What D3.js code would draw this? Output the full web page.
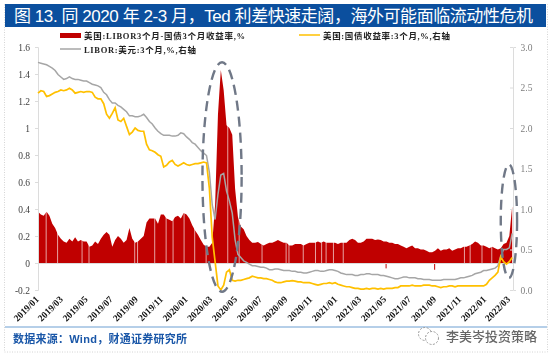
<!DOCTYPE html>
<html>
<head>
<meta charset="utf-8">
<script src="https://cdn.jsdelivr.net/npm/d3@7"></script>
<style>
html, body { margin: 0; padding: 0; background: #fff; }
svg { display: block; filter: blur(0.35px); }
</style>
</head>
<body>
<div id="chart"></div>
<script>
// one value per week from 2019/01/01
var spreadValues = [
  .38,.36,.35,.38,.35,.29,.26,.21,.18,.16,
  .15,.18,.16,.19,.16,.17,.16,.16,.12,.13,
  .16,.14,.18,.21,.23,.21,.12,.17,.2,.18,
  .15,.17,.26,.18,.15,.16,.18,.2,.3,.33,
  .33,.33,.29,.36,.36,.33,.32,.31,.34,.35,
  .33,.37,.36,.33,.28,.24,.21,.17,.135,.12,
  .12,.15,.43,1.1,1.43,1.28,1.02,1.0,.95,.55,
  .34,.27,.25,.2,.17,.15,.15,.155,.14,.13,
  .14,.15,.15,.16,.17,.16,.15,.15,.13,.13,
  .14,.14,.14,.13,.14,.15,.15,.15,.16,.15,
  .16,.15,.15,.15,.15,.14,.15,.15,.15,.17,
  .18,.17,.15,.15,.16,.18,.18,.18,.17,.175,
  .17,.16,.16,.15,.15,.14,.14,.13,.12,.11,
  .12,.13,.11,.11,.10,.10,.09,.08,.08,.09,
  .11,.09,.10,.10,.11,.09,.10,.11,.11,.12,
  .12,.13,.14,.16,.15,.13,.13,.12,.11,.12,
  .11,.10,.11,.14,.15,.2,.42
];
var yieldValues = [
  2.43,2.46,2.45,2.39,2.40,2.42,2.44,2.45,2.47,2.46,
  2.47,2.49,2.47,2.43,2.44,2.45,2.44,2.45,2.45,2.44,
  2.38,2.36,2.36,2.30,2.17,2.12,2.18,2.25,2.10,2.08,
  2.12,2.02,1.92,1.95,2.00,1.97,1.96,1.96,1.80,1.73,
  1.72,1.70,1.67,1.65,1.52,1.54,1.58,1.60,1.55,1.53,
  1.55,1.57,1.55,1.54,1.55,1.56,1.56,1.57,1.58,1.57,
  1.25,.65,.35,.05,.00,.06,.22,.25,.12,.11,
  .12,.12,.13,.14,.15,.17,.16,.15,.15,.14,
  .14,.13,.12,.10,.09,.09,.10,.11,.11,.115,
  .11,.10,.10,.09,.09,.09,.08,.07,.06,.07,
  .08,.08,.09,.08,.09,.07,.06,.05,.04,.04,
  .03,.02,.02,.01,.01,.02,.01,.02,.02,.01,
  .02,.01,.02,.02,.02,.03,.03,.05,.05,.05,
  .05,.06,.05,.05,.05,.06,.06,.06,.05,.05,
  .04,.03,.04,.04,.05,.05,.04,.05,.05,.05,
  .05,.05,.05,.05,.05,.05,.05,.07,.12,.15,
  .18,.22,.41,.35,.32,.35,.40
];
var liborValues = [
  2.81,2.80,2.79,2.78,2.76,2.74,2.71,2.66,2.63,2.60,
  2.61,2.63,2.61,2.60,2.60,2.59,2.58,2.58,2.56,2.54,
  2.53,2.52,2.50,2.44,2.41,2.35,2.31,2.31,2.28,2.26,
  2.23,2.20,2.15,2.15,2.14,2.14,2.15,2.17,2.13,2.08,
  2.05,2.00,1.96,1.93,1.91,1.91,1.91,1.90,1.90,1.91,
  1.94,1.93,1.89,1.86,1.82,1.80,1.76,1.72,1.69,1.66,
  1.45,1.05,.87,1.18,1.42,1.44,1.22,1.10,.95,.62,
  .44,.40,.36,.34,.32,.30,.30,.29,.28,.28,
  .27,.25,.25,.26,.26,.25,.24,.24,.24,.23,
  .23,.22,.22,.21,.21,.22,.23,.24,.24,.23,
  .23,.24,.25,.25,.24,.23,.21,.20,.19,.19,
  .19,.18,.18,.19,.19,.20,.20,.19,.19,.19,
  .18,.18,.17,.16,.15,.14,.14,.15,.16,.16,
  .15,.15,.15,.14,.14,.13,.13,.13,.12,.12,
  .12,.12,.13,.13,.13,.13,.13,.14,.15,.15,
  .16,.17,.18,.20,.21,.22,.24,.24,.25,.26,
  .27,.30,.42,.50,.50,.52,.70
];
// holidays with no spread value (white slits in the area)
var gapDates = [
  "2019-01-21","2019-02-18","2019-04-19","2019-05-06","2019-08-26","2019-09-02",
  "2019-10-14","2019-11-11","2019-11-28","2019-12-25","2020-01-20","2020-02-17",
  "2020-04-10","2020-05-08","2020-07-03","2020-08-31","2020-09-07","2020-10-12",
  "2020-11-11","2020-11-26","2020-12-07","2020-12-25","2021-01-18",
  "2021-11-11","2021-11-25","2021-12-24","2022-01-17"
];
var dipDates = ["2021-05-03", "2021-08-30"];
var dipValues = [-0.04, -0.05];

var monthTicks = [
  "2019/01","2019/03","2019/05","2019/07","2019/09","2019/11",
  "2020/01","2020/03","2020/05","2020/07","2020/09","2020/11",
  "2021/01","2021/03","2021/05","2021/07","2021/09","2021/11",
  "2022/01","2022/03"
];
var leftTicks = [-0.2, 0, 0.2, 0.4, 0.6, 0.8, 1, 1.2, 1.4, 1.6];
var rightTicks = [0, 0.5, 1, 1.5, 2, 2.5, 3];

var serif = '"Liberation Serif","Noto Sans CJK SC",serif';
var cjk = '"Liberation Sans","Noto Sans CJK SC",sans-serif';

var parseDay = d3.timeParse("%Y-%m-%d");
var parseMonth = d3.timeParse("%Y/%m");
var weeks = spreadValues.map((d, i) => d3.timeDay.offset(new Date(2019, 0, 1), i * 7));

var svg = d3.select("#chart").append("svg")
    .attr("width", 554)
    .attr("height", 361);

var x = d3.scaleTime()
    .domain([new Date(2019, 0, 1), new Date(2022, 2, 10)])
    .range([38, 513]);
var yLeft = d3.scaleLinear().domain([-0.2, 1.6]).range([290, 47]);
var yRight = d3.scaleLinear().domain([0, 3]).range([290, 47]);

// frame and title band
svg.append("rect")
    .attr("x", 4.5).attr("y", 4.5).attr("width", 543).attr("height", 347.5)
    .attr("fill", "none").attr("stroke", "#d4d4d4").attr("stroke-dasharray", "1,1.5");
svg.append("rect")
    .attr("x", 5).attr("y", 4).attr("width", 541).attr("height", 23)
    .attr("fill", "#0b4f9e");
svg.append("text")
    .attr("x", 14).attr("y", 21.5)
    .attr("fill", "#fff")
    .style("font-family", cjk)
    .style("font-size", "17px")
    .attr("textLength", 519)
    .text("图 13. 同 2020 年 2-3 月，Ted 利差快速走阔，海外可能面临流动性危机");

// 利差面积
var area = d3.area()
    .x((d, i) => x(weeks[i]))
    .y0(yLeft(0))
    .y1(d => yLeft(d));
svg.append("path")
    .attr("d", area(spreadValues))
    .attr("fill", "#c00000");
svg.selectAll(".gap")
    .data(gapDates)
    .enter().append("line")
    .attr("class", "gap")
    .attr("x1", d => x(parseDay(d)))
    .attr("x2", d => x(parseDay(d)))
    .attr("y1", yLeft(0))
    .attr("y2", yLeft(1.1))
    .attr("stroke", "#fff")
    .attr("stroke-opacity", 0.7)
    .attr("stroke-width", 0.9);
svg.selectAll(".dip")
    .data(dipDates)
    .enter().append("line")
    .attr("class", "dip")
    .attr("x1", d => x(parseDay(d)))
    .attr("x2", d => x(parseDay(d)))
    .attr("y1", yLeft(0))
    .attr("y2", (d, i) => yLeft(dipValues[i]))
    .attr("stroke", "#c00000")
    .attr("stroke-width", 1);

// axes
var axisLeft = d3.axisLeft(yLeft).tickValues(leftTicks).tickSize(3).tickFormat(d => d);
var axisRight = d3.axisRight(yRight).tickValues(rightTicks).tickSize(3).tickFormat(d3.format(".1f"));
var axisBottom = d3.axisBottom(x).tickValues(monthTicks.map(parseMonth))
    .tickSize(0).tickFormat(d3.timeFormat("%Y/%m"));

var gLeft = svg.append("g").attr("transform", "translate(38,0)").call(axisLeft);
gLeft.selectAll("text").attr("x", -8).attr("fill", "#404040")
    .style("font-family", serif).style("font-size", "9.5px");

var gRight = svg.append("g").attr("transform", "translate(513,0)").call(axisRight);
gRight.selectAll("line").attr("x2", -3);
gRight.selectAll("text").attr("x", 7.5).attr("fill", "#7f7f7f")
    .style("font-family", serif).style("font-size", "9.5px");

var gBottom = svg.append("g").attr("transform", "translate(0," + yLeft(0) + ")").call(axisBottom);
gBottom.selectAll("text")
    .attr("y", 0).attr("dy", 0)
    .attr("transform", "translate(1,37) rotate(-45)")
    .style("text-anchor", "end")
    .style("font-family", serif)
    .style("font-size", "9.5px")
    .style("font-weight", "bold")
    .attr("fill", "#111");

svg.selectAll(".domain, .tick line").attr("stroke", "#dcdcdc").attr("stroke-width", 1);

// 右轴折线
var line = d3.line()
    .x((d, i) => x(weeks[i]))
    .y(d => yRight(d));
svg.append("path")
    .attr("d", line(liborValues))
    .attr("fill", "none").attr("stroke", "#a6a6a6").attr("stroke-width", 1.5);
svg.append("path")
    .attr("d", line(yieldValues))
    .attr("fill", "none").attr("stroke", "#ffc000").attr("stroke-width", 1.7);

// dashed ellipses around the two spikes
var rings = [
  { date: "2020-03-27", days: 48, mid: 0.637, half: 0.85 },
  { date: "2022-02-28", days: 20, mid: 0.31, half: 0.42 }
];
svg.selectAll(".ring")
    .data(rings)
    .enter().append("ellipse")
    .attr("class", "ring")
    .attr("cx", d => x(parseDay(d.date)))
    .attr("cy", d => yLeft(d.mid))
    .attr("rx", d => x(d3.timeDay.offset(parseDay(d.date), d.days)) - x(parseDay(d.date)))
    .attr("ry", d => yLeft(0) - yLeft(d.half))
    .attr("fill", "none")
    .attr("stroke", "#707887")
    .attr("stroke-width", 2.4)
    .attr("stroke-dasharray", "10,6");

// 图例
svg.append("rect").attr("x", 60).attr("y", 33).attr("width", 21).attr("height", 5).attr("fill", "#c00000");
svg.append("line").attr("x1", 60).attr("x2", 81).attr("y1", 49).attr("y2", 49)
    .attr("stroke", "#a6a6a6").attr("stroke-width", 1.5);
svg.append("line").attr("x1", 299).attr("x2", 320).attr("y1", 35).attr("y2", 35)
    .attr("stroke", "#ffc000").attr("stroke-width", 1.5);

var legendText = [
  { x: 84, y: 38.5, len: 161, t: "美国:LIBOR3个月-国债3个月收益率,%" },
  { x: 84, y: 52.5, len: 112, t: "LIBOR:美元:3个月,%,右轴" },
  { x: 323, y: 38.5, len: 127, t: "美国:国债收益率:3个月,%,右轴" }
];
svg.selectAll(".legend")
    .data(legendText)
    .enter().append("text")
    .attr("class", "legend")
    .attr("x", d => d.x)
    .attr("y", d => d.y)
    .attr("textLength", d => d.len)
    .attr("fill", "#222")
    .style("font-family", serif)
    .style("font-size", "8.5px")
    .style("font-weight", "bold")
    .text(d => d.t);

// footer
svg.append("line").attr("x1", 5).attr("x2", 547).attr("y1", 327).attr("y2", 327)
    .attr("stroke", "#6d9fd2").attr("stroke-width", 1);
svg.append("text")
    .attr("x", 13).attr("y", 343)
    .attr("fill", "#1a57a8")
    .style("font-family", cjk)
    .style("font-size", "11px")
    .style("font-weight", "bold")
    .attr("textLength", 174)
    .text("数据来源：Wind，财通证券研究所");

// watermark
svg.append("circle").attr("cx", 425).attr("cy", 334).attr("r", 6.5)
    .attr("fill", "#fff").attr("stroke", "#999").attr("stroke-dasharray", "2,1.5");
svg.append("circle").attr("cx", 432).attr("cy", 338).attr("r", 6.5)
    .attr("fill", "#fff").attr("stroke", "#999").attr("stroke-dasharray", "2,1.5");
svg.append("text")
    .attr("x", 446).attr("y", 341)
    .attr("fill", "#666")
    .style("font-family", cjk)
    .style("font-size", "13px")
    .style("font-weight", "500")
    .attr("textLength", 91)
    .text("李美岑投资策略");
</script>
</body>
</html>
